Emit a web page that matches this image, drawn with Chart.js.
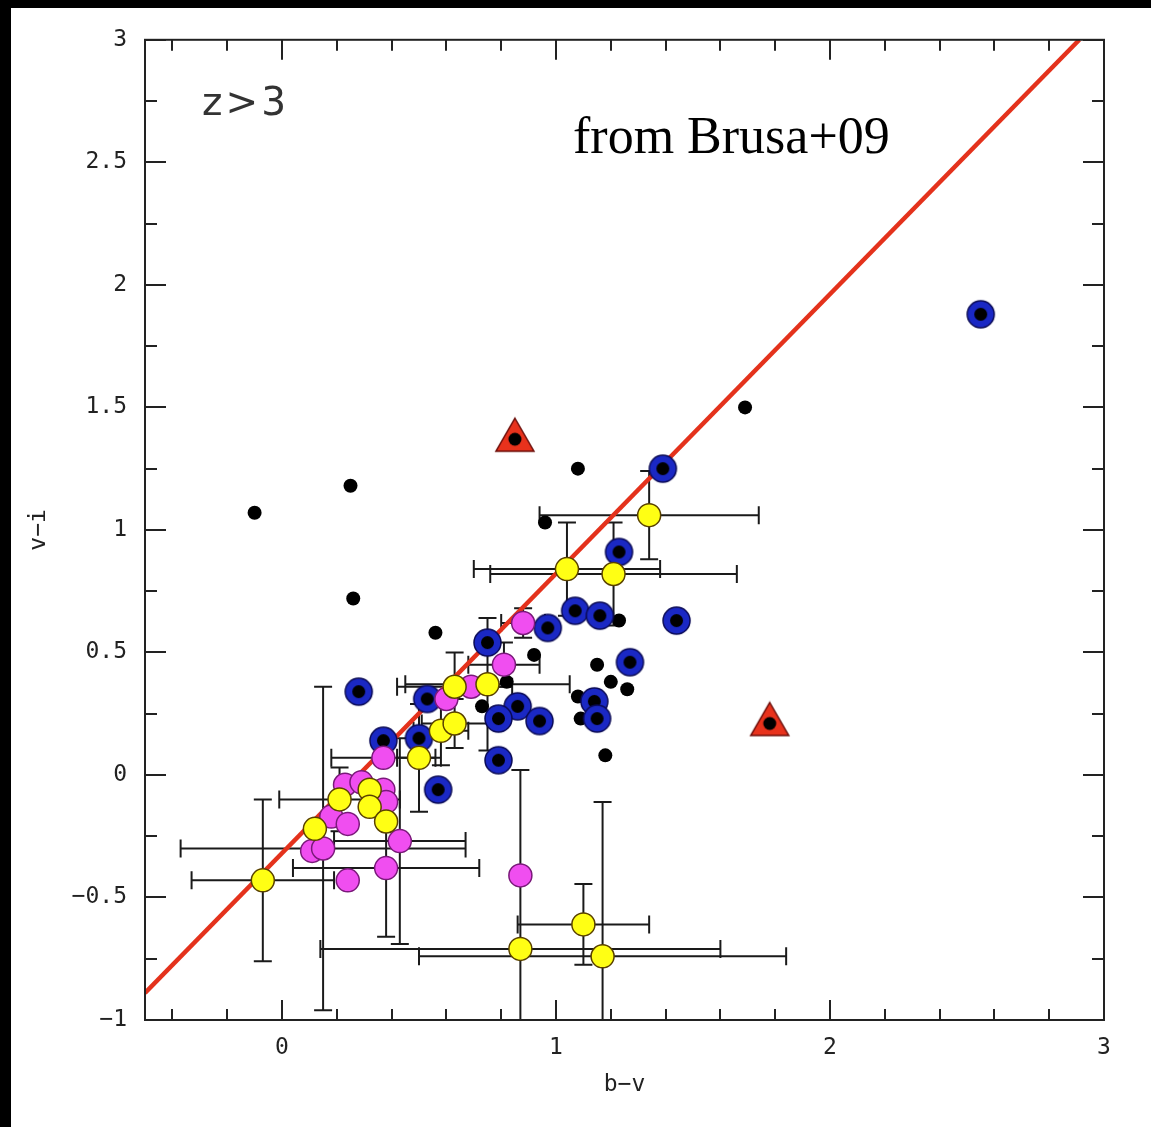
<!DOCTYPE html>
<html>
<head>
<meta charset="utf-8">
<title>v-i vs b-v, z&gt;3</title>
<script src="https://cdn.jsdelivr.net/npm/chart.js@4.4.0/dist/chart.umd.min.js"></script>
<style>
  html, body { margin: 0; padding: 0; background: #000; }
  #wrap { position: absolute; left: 11px; top: 8px; width: 1140px; height: 1119px; background: #fff; }
</style>
</head>
<body>
<div id="wrap"><canvas id="colorChart"></canvas></div>
<script>
// Axis ticks
const xTickVals = [0, 1, 2, 3];
const xTickLabels = ['0', '1', '2', '3'];
const yTickVals = [-1, -0.5, 0, 0.5, 1, 1.5, 2, 2.5, 3];
const yTickLabels = ['\u22121', '\u22120.5', '0', '0.5', '1', '1.5', '2', '2.5', '3'];
const xMinorTicks = [-0.4, -0.2, 0.2, 0.4, 0.6, 0.8, 1.2, 1.4, 1.6, 1.8, 2.2, 2.4, 2.6, 2.8];
const yMinorTicks = [-0.75, -0.25, 0.25, 0.75, 1.25, 1.75, 2.25, 2.75];

// Small black dots
const blackX = [-0.10, 0.25, 0.26, 0.56, 0.96, 1.08, 1.69, 0.92, 1.23, 1.15, 1.20, 1.26, 1.08, 1.09, 1.18, 0.73, 0.82];
const blackY = [1.07, 1.18, 0.72, 0.58, 1.03, 1.25, 1.50, 0.49, 0.63, 0.45, 0.38, 0.35, 0.32, 0.23, 0.08, 0.28, 0.38];

// Blue circles with black centre
const blueX = [2.55, 1.39, 1.23, 1.44, 1.07, 1.16, 0.97, 0.75, 1.27, 0.86, 0.94, 0.79, 1.14, 1.15, 0.79, 0.28, 0.53, 0.37, 0.50, 0.57];
const blueY = [1.88, 1.25, 0.91, 0.63, 0.67, 0.65, 0.60, 0.54, 0.46, 0.28, 0.22, 0.23, 0.30, 0.23, 0.06, 0.34, 0.31, 0.14, 0.15, -0.06];

// Red triangles
const triX = [0.85, 1.78];
const triY = [1.37, 0.21];

// Magenta points and their errors
const magX = [0.88, 0.81, 0.69, 0.60, 0.37, 0.23, 0.29, 0.37, 0.38, 0.18, 0.24, 0.11, 0.15, 0.43, 0.38, 0.24, 0.87];
const magY = [0.62, 0.45, 0.36, 0.31, 0.07, -0.04, -0.03, -0.06, -0.11, -0.17, -0.20, -0.31, -0.30, -0.27, -0.38, -0.43, -0.41];
const magXErr = [0.08, 0.13, 0, 0, 0.19, 0, 0, 0, 0, 0, 0, 0, 0.52, 0.24, 0.34, 0, 0];
const magYErr = [0.06, 0.09, 0, 0, 0, 0, 0, 0, 0, 0, 0, 0, 0.66, 0.42, 0.28, 0, 0];

// Yellow points and their errors
const yelX = [1.34, 1.04, 1.21, 0.63, 0.75, 0.58, 0.63, 0.50, 0.21, 0.32, 0.32, 0.38, 0.12, -0.07, 1.10, 0.87, 1.17];
const yelY = [1.06, 0.84, 0.82, 0.36, 0.37, 0.18, 0.21, 0.07, -0.10, -0.06, -0.13, -0.19, -0.22, -0.43, -0.61, -0.71, -0.74];
const yelXErr = [0.40, 0.34, 0.45, 0.21, 0.30, 0.10, 0.12, 0.08, 0.22, 0, 0, 0, 0, 0.26, 0.24, 0.73, 0.67];
const yelYErr = [0.18, 0.19, 0.21, 0.14, 0.27, 0.14, 0.10, 0.22, 0.13, 0, 0, 0, 0, 0.33, 0.165, 0.73, 0.63];

// Red reference line end points
const lineX = [-0.5, 2.91];
const lineY = [-0.89, 3.0];

function toPoints(xs, ys) {
  return xs.map((v, i) => ({ x: v, y: ys[i] }));
}

// Blue ring with black core as a point style
function makeRing(r, fill, stroke, coreR) {
  const s = Math.ceil(r * 2 + 4);
  const c = document.createElement('canvas');
  c.width = s; c.height = s;
  const g = c.getContext('2d');
  g.beginPath();
  g.arc(s / 2, s / 2, r, 0, Math.PI * 2);
  g.fillStyle = fill;
  g.fill();
  g.lineWidth = 1.5;
  g.strokeStyle = stroke;
  g.stroke();
  g.beginPath();
  g.arc(s / 2, s / 2, coreR, 0, Math.PI * 2);
  g.fillStyle = '#000';
  g.fill();
  return c;
}

// Red triangle with black dot
function makeTriangle() {
  const s = 46;
  const c = document.createElement('canvas');
  c.width = s; c.height = s;
  const g = c.getContext('2d');
  const cx = s / 2, cy = s / 2;
  g.beginPath();
  g.moveTo(cx, cy - 21);
  g.lineTo(cx + 19, cy + 12);
  g.lineTo(cx - 19, cy + 12);
  g.closePath();
  g.fillStyle = '#e8321c';
  g.fill();
  g.lineWidth = 1.5;
  g.strokeStyle = '#6a0c08';
  g.stroke();
  g.beginPath();
  g.arc(cx, cy, 6.5, 0, Math.PI * 2);
  g.fillStyle = '#000';
  g.fill();
  return c;
}

// Error bars drawn under the markers
const errorBars = {
  id: 'errorBars',
  beforeDatasetsDraw(chart) {
    const { ctx, chartArea: a, scales: { x, y } } = chart;
    const cap = 9;
    ctx.save();
    ctx.beginPath();
    ctx.rect(a.left, a.top, a.right - a.left, a.bottom - a.top);
    ctx.clip();
    ctx.strokeStyle = '#1a1a1a';
    ctx.lineWidth = 2;
    function drawSet(xs, ys, xe, ye) {
      ctx.beginPath();
      xs.forEach((v, i) => {
        const px = x.getPixelForValue(v);
        const py = y.getPixelForValue(ys[i]);
        if (xe[i] > 0) {
          const l = x.getPixelForValue(v - xe[i]);
          const r = x.getPixelForValue(v + xe[i]);
          ctx.moveTo(l, py); ctx.lineTo(r, py);
          ctx.moveTo(l, py - cap); ctx.lineTo(l, py + cap);
          ctx.moveTo(r, py - cap); ctx.lineTo(r, py + cap);
        }
        if (ye[i] > 0) {
          const t = y.getPixelForValue(ys[i] + ye[i]);
          const b = y.getPixelForValue(ys[i] - ye[i]);
          ctx.moveTo(px, t); ctx.lineTo(px, b);
          ctx.moveTo(px - cap, t); ctx.lineTo(px + cap, t);
          ctx.moveTo(px - cap, b); ctx.lineTo(px + cap, b);
        }
      });
      ctx.stroke();
    }
    drawSet(magX, magY, magXErr, magYErr);
    drawSet(yelX, yelY, yelXErr, yelYErr);
    ctx.restore();
  }
};

// Box, inward ticks on all sides, and text labels
const frame = {
  id: 'frame',
  afterDraw(chart) {
    const { ctx, chartArea: a, scales: { x, y } } = chart;
    ctx.save();
    ctx.strokeStyle = '#222';
    ctx.lineWidth = 2;
    ctx.strokeRect(a.left, a.top, a.right - a.left, a.bottom - a.top);
    ctx.beginPath();
    const xt = (vals, len) => vals.forEach(v => {
      const px = Math.round(x.getPixelForValue(v));
      ctx.moveTo(px, a.bottom); ctx.lineTo(px, a.bottom - len);
      ctx.moveTo(px, a.top); ctx.lineTo(px, a.top + len);
    });
    const yt = (vals, len) => vals.forEach(v => {
      const py = Math.round(y.getPixelForValue(v));
      ctx.moveTo(a.left, py); ctx.lineTo(a.left + len, py);
      ctx.moveTo(a.right, py); ctx.lineTo(a.right - len, py);
    });
    xt(xTickVals, 20);
    xt(xMinorTicks, 11);
    yt(yTickVals, 21);
    yt(yMinorTicks, 12);
    ctx.stroke();

    ctx.fillStyle = '#333';
    ctx.font = '39px "DejaVu Sans"';
    ctx.letterSpacing = '3px';
    ctx.textBaseline = 'alphabetic';
    ctx.fillText('z>3', a.left + 57, a.top + 75);
    ctx.letterSpacing = '0px';
    ctx.fillStyle = '#000';
    ctx.font = '52px "Liberation Serif"';
    ctx.fillText('from Brusa+09', a.left + 428, a.top + 113);
    ctx.restore();
  }
};

const tickFont = { family: '"DejaVu Sans Mono", monospace', size: 23 };

new Chart(document.getElementById('colorChart'), {
  type: 'scatter',
  data: {
    datasets: [
      {
        label: 'fit',
        data: toPoints(lineX, lineY),
        showLine: true,
        borderColor: '#e4321c',
        borderWidth: 4.5,
        pointRadius: 0,
        fill: false,
        order: 6
      },
      {
        label: 'black',
        data: toPoints(blackX, blackY),
        backgroundColor: '#000',
        borderColor: '#000',
        borderWidth: 0,
        pointRadius: 7,
        order: 5
      },
      {
        label: 'blue',
        data: toPoints(blueX, blueY),
        pointStyle: makeRing(13.5, '#1a28c4', '#0a0a55', 6.5),
        order: 4
      },
      {
        label: 'magenta',
        data: toPoints(magX, magY),
        backgroundColor: '#f04ef0',
        borderColor: '#7a1a7a',
        borderWidth: 1.5,
        pointRadius: 11.5,
        order: 3
      },
      {
        label: 'yellow',
        data: toPoints(yelX, yelY),
        backgroundColor: '#ffff14',
        borderColor: '#5a4200',
        borderWidth: 1.5,
        pointRadius: 11.5,
        order: 2
      },
      {
        label: 'triangles',
        data: toPoints(triX, triY),
        pointStyle: makeTriangle(),
        order: 1
      }
    ]
  },
  options: {
    responsive: true,
    maintainAspectRatio: false,
    animation: false,
    events: [],
    layout: { padding: { top: 29, right: 47, left: 0, bottom: 0 } },
    plugins: {
      legend: { display: false },
      tooltip: { enabled: false }
    },
    scales: {
      x: {
        type: 'linear',
        min: -0.5,
        max: 3,
        afterBuildTicks: s => { s.ticks = xTickVals.map(v => ({ value: v })); },
        afterFit: s => { s.height = 107; },
        grid: { display: false, drawTicks: false },
        border: { display: false },
        ticks: {
          padding: 14,
          color: '#222',
          font: tickFont,
          maxRotation: 0,
          callback: (v, i) => xTickLabels[i]
        },
        title: {
          display: true,
          text: 'b\u2212v',
          color: '#222',
          font: tickFont,
          padding: { top: 0, bottom: 28 }
        }
      },
      y: {
        type: 'linear',
        min: -1,
        max: 3,
        afterBuildTicks: s => { s.ticks = yTickVals.map(v => ({ value: v })); },
        afterFit: s => { s.width = 134; },
        grid: { display: false, drawTicks: false },
        border: { display: false },
        ticks: {
          padding: 18,
          color: '#222',
          font: tickFont,
          callback: (v, i) => yTickLabels[i]
        },
        title: {
          display: true,
          text: 'v\u2212i',
          color: '#222',
          font: tickFont,
          padding: { top: 14, bottom: 0 }
        }
      }
    }
  },
  plugins: [errorBars, frame]
});
</script>
</body>
</html>
